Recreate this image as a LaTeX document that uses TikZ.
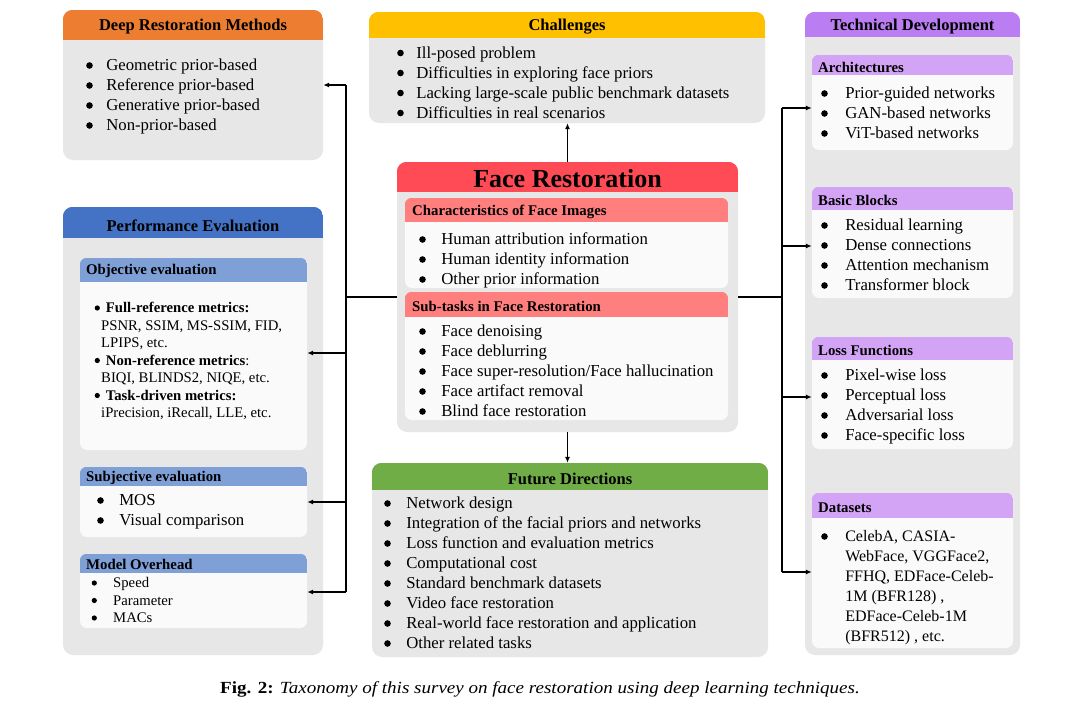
\documentclass[tikz,border=0pt]{standalone}
\usepackage{fontspec}
\usepackage{graphicx}
\setmainfont{Liberation Serif}
\usetikzlibrary{fit,arrows.meta}
\definecolor{boxgray}{HTML}{E7E7E7}
\definecolor{innerw}{HTML}{FAFAFA}
\definecolor{hOrange}{HTML}{ED7D31}
\definecolor{hYellow}{HTML}{FFC000}
\definecolor{hPurple}{HTML}{BA7EF2}
\definecolor{hPurpleL}{HTML}{D3A4F6}
\definecolor{hBlue}{HTML}{4472C4}
\definecolor{hBlueL}{HTML}{7F9FD7}
\definecolor{hRed}{HTML}{FF4B55}
\definecolor{hRedL}{HTML}{FF7F7F}
\definecolor{hGreen}{HTML}{70AD47}
\newcommand\hdr[4]{%
  \begin{scope}
    \clip[rounded corners=#4] (#1.north west) rectangle (#1.south east);
    \fill[#3] (#1.north west) rectangle ([yshift=-#2pt]#1.north east);
  \end{scope}}
\newcommand\bl[2]{\begin{tabular}[t]{@{}l@{\hspace{#1}}l@{}}#2\end{tabular}}
\newcommand\bu{\tikz[baseline=0pt]\fill[black] (0pt,5pt) circle (3.3pt);}
\newcommand\bs{\tikz[baseline=0pt]\fill[black] (0pt,4.5pt) circle (2.6pt);}
\tikzset{
  outer/.style={fill=boxgray, rounded corners=10pt, inner sep=0pt, draw=none},
  inner/.style={fill=innerw, rounded corners=7pt, inner sep=0pt, draw=none},
  title/.style={font=\fontsize{16.5}{20}\selectfont\bfseries, inner sep=0pt},
  subtitle/.style={font=\fontsize{14.8}{17}\selectfont\bfseries, anchor=west, inner sep=0pt},
  list/.style={anchor=base west, inner sep=0pt, font=\fontsize{16.75}{20}\selectfont},
  conn/.style={line width=1.5pt},
  arr/.style={line width=1.5pt, -{Latex[length=6pt,width=5pt]}},
}
\begin{document}
\begin{tikzpicture}[x=1pt,y=-1pt]
\fill[white] (0,0) rectangle (1080,704);
\useasboundingbox (0,0) rectangle (1080,704);

% ---------- Deep Restoration Methods
\node[outer, fit={(63,10) (323,160)}] (drm) {};
\hdr{drm}{30}{hOrange}{10pt}
\node[title] (drmt) at (193,27) {Deep Restoration Methods};
\node[list] (drml) at (86,70.5) {\bl{13.5pt}{%
\bu & Geometric prior-based\\
\bu & Reference prior-based\\
\bu & Generative prior-based\\
\bu & Non-prior-based}};

% ---------- Challenges
\node[outer, fit={(369,12) (765,123)}] (chl) {};
\hdr{chl}{26}{hYellow}{10pt}
\node[title] (chlt) at (567,27) {Challenges};
\node[list] (chll) at (397,58) {\bl{12.5pt}{%
\bu & Ill-posed problem\\
\bu & Difficulties in exploring face priors\\
\bu & Lacking large-scale public benchmark datasets\\
\bu & Difficulties in real scenarios}};

% ---------- Technical Development
\node[outer, fit={(805,12) (1020,655)}] (tech) {};
\hdr{tech}{25}{hPurple}{10pt}
\node[title] (techt) at (912.5,27) {Technical Development};

\node[inner, fit={(812,55) (1013,150)}] (arch) {};
\hdr{arch}{20}{hPurpleL}{7pt}
\node[subtitle] (archt) at (818,67) {Architectures};
\node[list] (archl) at (821,98.5) {\bl{17.5pt}{%
\bu & Prior-guided networks\\
\bu & GAN-based networks\\
\bu & ViT-based networks}};

\node[inner, fit={(812,187) (1013,298)}] (bb) {};
\hdr{bb}{23}{hPurpleL}{7pt}
\node[subtitle] (bbt) at (818,200) {Basic Blocks};
\node[list] (bbl) at (821,230.5) {\bl{17.5pt}{%
\bu & Residual learning\\
\bu & Dense connections\\
\bu & Attention mechanism\\
\bu & Transformer block}};

\node[inner, fit={(812,337) (1013,449)}] (loss) {};
\hdr{loss}{23}{hPurpleL}{7pt}
\node[subtitle] (losst) at (818,350) {Loss Functions};
\node[list] (lossl) at (821,380.5) {\bl{17.5pt}{%
\bu & Pixel-wise loss\\
\bu & Perceptual loss\\
\bu & Adversarial loss\\
\bu & Face-specific loss}};

\node[inner, fit={(812,493) (1013,648)}] (ds) {};
\hdr{ds}{25}{hPurpleL}{7pt}
\node[subtitle] (dst) at (818,508) {Datasets};
\node[list, font=\fontsize{16}{20}\selectfont] (dsl) at (821,541.5) {\bl{17.5pt}{%
\bu & CelebA, CASIA-\\
 & WebFace, VGGFace2,\\
 & FFHQ, EDFace-Celeb-\\
 & 1M (BFR128) ,\\
 & EDFace-Celeb-1M\\
 & (BFR512) , etc.}};

% ---------- Performance Evaluation
\node[outer, fit={(63,207) (323,655)}] (pe) {};
\hdr{pe}{31}{hBlue}{10pt}
\node[title] (pet) at (193,226) {Performance Evaluation};

\node[inner, fit={(80,258) (307,450)}] (obj) {};
\hdr{obj}{24}{hBlueL}{7pt}
\node[subtitle] (objt) at (86,271) {Objective evaluation};
\node[anchor=base west, inner sep=0pt, font=\fontsize{14.7}{17.5}\selectfont] (objl) at (94.5,312.5) {%
\begin{tabular}[t]{@{}l@{}}
\bs\hspace{6pt}\textbf{Full-reference metrics:}\\
\hspace{6.5pt}PSNR, SSIM, MS-SSIM, FID,\\
\hspace{6.5pt}LPIPS, etc.\\
\bs\hspace{6pt}\textbf{Non-reference metrics}:\\
\hspace{6.5pt}BIQI, BLINDS2, NIQE, etc.\\
\bs\hspace{6pt}\textbf{Task-driven metrics:}\\
\hspace{6.5pt}iPrecision, iRecall, LLE, etc.
\end{tabular}};

\node[inner, fit={(80,467) (307,537)}] (subj) {};
\hdr{subj}{19}{hBlueL}{7pt}
\node[subtitle] (subjt) at (86,478) {Subjective evaluation};
\node[list] (subjl) at (97,505.5) {\bl{15.5pt}{%
\bu & MOS\\
\bu & Visual comparison}};

\node[inner, fit={(80,554) (307,628)}] (mo) {};
\hdr{mo}{19}{hBlueL}{7pt}
\node[subtitle] (mot) at (86,564) {Model Overhead};
\node[anchor=base west, inner sep=0pt, font=\fontsize{14.7}{17.5}\selectfont] (mol) at (91.5,587.5) {\bl{16.3pt}{%
\bs & Speed\\
\bs & Parameter\\
\bs & MACs}};

% ---------- Face Restoration
\node[outer, fit={(397,162) (738,432)}] (fr) {};
\hdr{fr}{30}{hRed}{10pt}
\node[font=\fontsize{26}{30}\selectfont\bfseries, inner sep=0pt] (frt) at (567.5,179) {Face Restoration};

\node[inner, fit={(405,198) (728,288)}] (chr) {};
\hdr{chr}{24}{hRedL}{7pt}
\node[subtitle] (chrt) at (412,212) {Characteristics of Face Images};
\node[list] (chrl) at (419,244.5) {\bl{15.5pt}{%
\bu & Human attribution information\\
\bu & Human identity information\\
\bu & Other prior information}};

\node[inner, fit={(405,292) (728,420)}] (sub) {};
\hdr{sub}{25}{hRedL}{7pt}
\node[subtitle] (subt) at (412,306) {Sub-tasks in Face Restoration};
\node[list] (subl) at (419,336.5) {\bl{15.5pt}{%
\bu & Face denoising\\
\bu & Face deblurring\\
\bu & Face super-resolution/Face hallucination\\
\bu & Face artifact removal\\
\bu & Blind face restoration}};

% ---------- Future Directions
\node[outer, fit={(372,463) (768,657)}] (fut) {};
\hdr{fut}{27}{hGreen}{10pt}
\node[title] (futt) at (570,479) {Future Directions};
\node[list] (futl) at (384,508.5) {\bl{15.5pt}{%
\bu & Network design\\
\bu & Integration of the facial priors and networks\\
\bu & Loss function and evaluation metrics\\
\bu & Computational cost\\
\bu & Standard benchmark datasets\\
\bu & Video face restoration\\
\bu & Real-world face restoration and application\\
\bu & Other related tasks}};

% ---------- Caption
\node[font=\fontsize{17}{20}\selectfont, inner sep=0pt] (cap) at (540,689) {\scalebox{1.12}[1]{\textbf{Fig. 2:} \textit{Taxonomy of this survey on face restoration using deep learning techniques.}}};

% ---------- Connectors
\coordinate (lj) at (346,297);
\coordinate (ltop) at (346,85);
\coordinate (lo) at (346,353);
\coordinate (ls) at (346,502);
\coordinate (lm) at (346,592);
\draw[conn] (fr.west |- lj) -- (lj);
\draw[conn] (ltop) -- (lm);
\draw[arr] (ltop) -- (drm.east |- ltop);
\draw[arr] (lo) -- (obj.east |- lo);
\draw[arr] (ls) -- (subj.east |- ls);
\draw[arr] (lm) -- (mo.east |- lm);

\coordinate (rj) at (782,297);
\coordinate (ra) at (782,108);
\coordinate (rb) at (782,246);
\coordinate (rl) at (782,397);
\coordinate (rd) at (782,572);
\draw[conn] (fr.east |- rj) -- (rj);
\draw[conn] (ra) -- (rd);
\draw[arr] (ra) -- (arch.west |- ra);
\draw[arr] (rb) -- (bb.west |- rb);
\draw[arr] (rl) -- (loss.west |- rl);
\draw[arr] (rd) -- (ds.west |- rd);

\draw[arr] (fr.north) -- (fr.north |- chl.south);
\draw[arr] (fr.south) -- (fr.south |- fut.north);
\end{tikzpicture}
\end{document}
